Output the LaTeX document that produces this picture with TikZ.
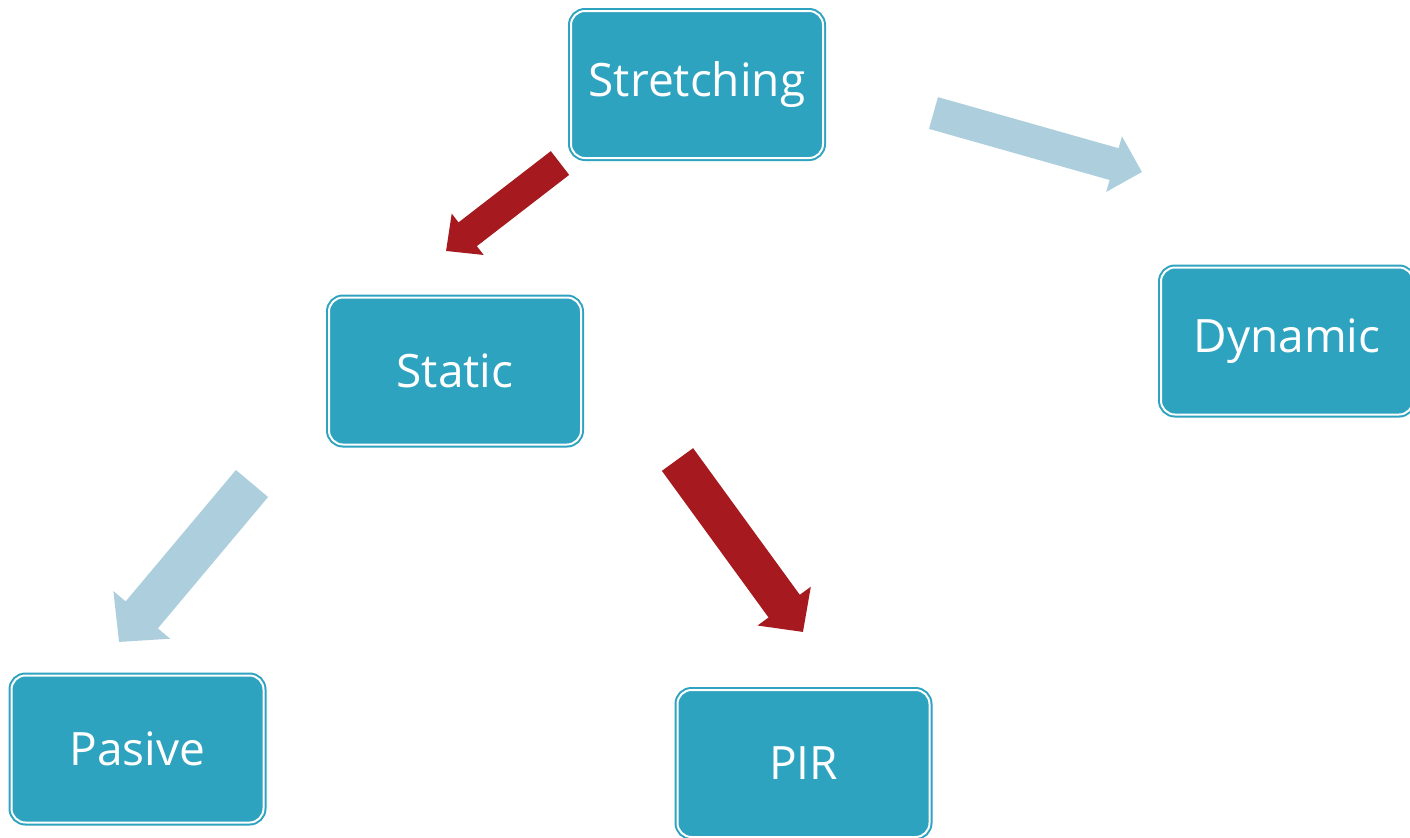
\documentclass[tikz,border=0pt]{standalone}
\usepackage{fontspec}
\setmainfont{Open Sans}
\usepackage{xcolor}
\usetikzlibrary{arrows.meta}

\definecolor{boxteal}{RGB}{46,163,191}
\definecolor{arrowred}{RGB}{165,25,31}
\definecolor{arrowblue}{RGB}{173,207,221}

\tikzset{
    stage/.style={rectangle, rounded corners=7pt, fill=boxteal, draw=boxteal,
        line width=1pt, double=white, double distance=1pt,
        minimum width=126pt, minimum height=73.5pt, text=white,
        font=\fontsize{23pt}{27pt}\selectfont},
    flow/.style n args={3}{line width=#1, line cap=butt,
        -{Triangle[length=#2, width=#3]}}
}

\begin{document}
\begin{tikzpicture}[x=0.5pt, y=-0.5pt]
    \clip (0,0) rectangle (1410,837);
    \fill[white] (0,0) rectangle (1410,837);

    % Boxes
    \node[stage] (stretching) at (697,84.5) {Stretching};
    \node[stage] (static) at (455,371) {Static};
    \node[stage] (dynamic) at (1287,341) {Dynamic};
    \node[stage] (pasive) at (137.5,749) {Pasive};
    \node[stage] (pir) at (803.5,763.5) {PIR};

    % Arrow ends
    \coordinate (stretching-left) at (560,163);
    \coordinate (static-top) at (446,251);
    \coordinate (stretching-right) at (933.5,113);
    \coordinate (dynamic-top) at (1142,172);
    \coordinate (static-left) at (252,483.5);
    \coordinate (pasive-top) at (119,642);
    \coordinate (static-right) at (677.5,459.5);
    \coordinate (pir-top) at (803,632);

    % Arrows
    \draw[arrowred, flow={15pt}{13.7pt}{25.3pt}] (stretching-left) -- (static-top);
    \draw[arrowblue, flow={16.5pt}{14.5pt}{28pt}] (stretching-right) -- (dynamic-top);
    \draw[arrowblue, flow={21pt}{17.7pt}{36pt}] (static-left) -- (pasive-top);
    \draw[arrowred, flow={19.3pt}{16pt}{32pt}] (static-right) -- (pir-top);
\end{tikzpicture}
\end{document}
